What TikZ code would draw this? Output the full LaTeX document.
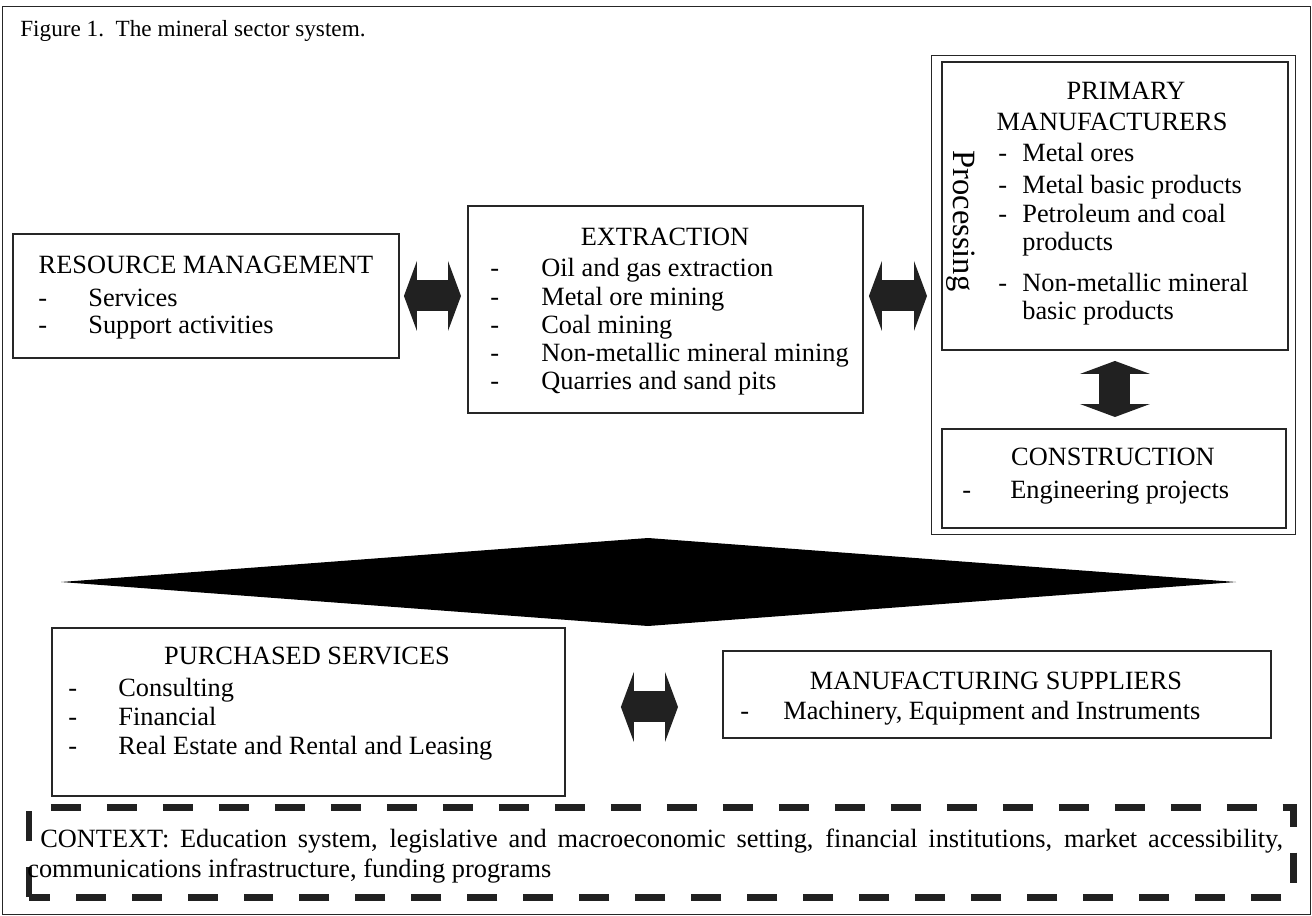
\documentclass[tikz,border=0pt]{standalone}
\usepackage{fontspec}
\setmainfont{Liberation Serif}
\usetikzlibrary{arrows.meta}

\begin{document}
\begin{tikzpicture}[x=0.02cm, y=-0.02cm,
    box/.style={draw=black!85, line width=0.4mm, anchor=north west, inner sep=0},
    thinbox/.style={draw=black!85, line width=0.25mm, anchor=north west, inner sep=0},
    txt/.style={anchor=base west, inner sep=0, font=\fontsize{15}{16}\selectfont},
    head/.style={anchor=base, inner sep=0, font=\fontsize{15}{16}\selectfont},
    link/.style={line width=6.2mm, black!87,
        {Triangle[width=14mm, length=2.6mm, line width=0pt]}-{Triangle[width=14mm, length=2.6mm, line width=0pt]}}]
    \useasboundingbox (0,0) rectangle (1312,916);

    % Frame and title
    \node[thinbox, minimum width=261.6mm, minimum height=181.6mm] (frame) at (2,6) {};
    \node[anchor=base west, inner sep=0, font=\fontsize{13.2}{15}\selectfont] (title) at (20,36) {Figure 1.\ \ The mineral sector system.};

    % Boxes
    \node[box, minimum width=77.2mm, minimum height=24.8mm] (res) at (12,233) {};
    \node[box, minimum width=79mm, minimum height=41.4mm] (ext) at (467,205) {};
    \node[thinbox, minimum width=72.8mm, minimum height=95.8mm] (proc) at (931,55) {};
    \node[box, minimum width=69.2mm, minimum height=57.6mm] (prim) at (941,61) {};
    \node[box, minimum width=68.8mm, minimum height=19.8mm] (cons) at (941,428) {};
    \node[box, minimum width=102.6mm, minimum height=33.6mm] (purch) at (51,627) {};
    \node[box, minimum width=109.6mm, minimum height=17.4mm] (manuf) at (722,650) {};

    % Resource management
    \node[head] (res-t) at (206,273) {RESOURCE MANAGEMENT};
    \node[txt] (res-d1) at (38,306) {-};
    \node[txt] (res-1) at (88,306) {Services};
    \node[txt] (res-d2) at (38,333) {-};
    \node[txt] (res-2) at (88,333) {Support activities};

    % Extraction
    \node[head] (ext-t) at (665,245) {EXTRACTION};
    \foreach \y/\item [count=\i] in {276/Oil and gas extraction, 305/Metal ore mining, 333/Coal mining,
            361/Non-metallic mineral mining, 389/Quarries and sand pits} {
        \node[txt] (ext-d\i) at (490,\y) {-};
        \node[txt] (ext-\i) at (541,\y) {\item};
    }

    % Primary manufacturers
    \node[head] (prim-t1) at (1126,99) {PRIMARY};
    \node[head] (prim-t2) at (1112,130) {MANUFACTURERS};
    \foreach \y/\item [count=\i] in {161/Metal ores, 193/Metal basic products, 222/Petroleum and coal, 291/Non-metallic mineral} {
        \node[txt] (prim-d\i) at (998,\y) {-};
        \node[txt] (prim-\i) at (1022,\y) {\item};
    }
    \node[txt] (prim-3b) at (1022,250) {products};
    \node[txt] (prim-4b) at (1022,319) {basic products};
    \node[rotate=-90, inner sep=0, font=\fontsize{18.5}{20}\selectfont] (procl) at (961,221) {Processing};

    % Construction
    \node[head] (cons-t) at (1113,465) {CONSTRUCTION};
    \node[txt] (cons-d) at (962,498) {-};
    \node[txt] (cons-1) at (1010,498) {Engineering projects};

    % Purchased services
    \node[head] (purch-t) at (307,664) {PURCHASED SERVICES};
    \foreach \y/\item [count=\i] in {696/Consulting, 725/Financial, 754/Real Estate and Rental and Leasing} {
        \node[txt] (purch-d\i) at (68,\y) {-};
        \node[txt] (purch-\i) at (118,\y) {\item};
    }

    % Manufacturing suppliers
    \node[head] (manuf-t) at (996,689) {MANUFACTURING SUPPLIERS};
    \node[txt] (manuf-d) at (740,719) {-};
    \node[txt] (manuf-1) at (783,719) {Machinery, Equipment and Instruments};

    % Links
    \draw[link] ([xshift=0.8mm]res.east) -- ([xshift=-1.2mm]res.east -| ext.west);
    \draw[link] ([xshift=1mm]res.east -| ext.east) -- ([xshift=-0.8mm]res.east -| proc.west);
    \draw[link] ([yshift=-2mm]prim.south) -- ([yshift=2.2mm]prim.south |- cons.north);
    \draw[link] ([xshift=11mm, yshift=1mm]purch.east) -- ([xshift=-8.8mm, yshift=1mm]purch.east -| manuf.west);
    \fill (61,582) -- (648,538) -- (1236,582) -- (648,626) -- cycle;

    % Context
    \draw[black!87, line width=1.4mm, dash pattern=on 6mm off 5.2mm] (29,897) rectangle (1293,807);
    \node[txt] (ctx-1) at (40,847) {\makebox[248.6mm][s]{CONTEXT: Education system, legislative and macroeconomic setting, financial institutions, market accessibility,}};
    \node[txt] (ctx-2) at (27,877) {communications infrastructure, funding programs};
\end{tikzpicture}
\end{document}
